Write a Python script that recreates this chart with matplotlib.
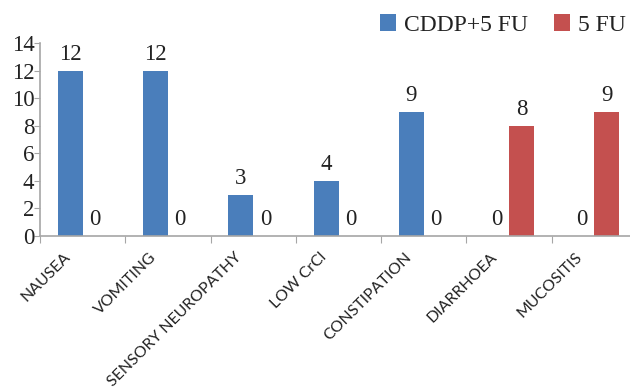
import matplotlib
matplotlib.use('Agg')
import matplotlib.pyplot as plt
import matplotlib.transforms as mtransforms
import numpy as np

categories = ['NAUSEA', 'VOMITING', 'SENSORY NEUROPATHY', 'LOW CrCl',
              'CONSTIPATION', 'DIARRHOEA', 'MUCOSITIS']
cddp_5fu = [12, 12, 3, 4, 9, 0, 0]
only_5fu = [0, 0, 0, 0, 0, 8, 9]
series_names = ['CDDP+5 FU', '5 FU']

blue = '#4A7EBB'
red = '#C4504F'
grey = '#A6A6A6'

fig = plt.figure(figsize=(6.3, 3.88), dpi=100)
ax = fig.add_axes([40 / 630, 1 - 236 / 388, 597 / 630, 193 / 388])

x = np.arange(len(categories))
w = 0.29
b1 = ax.bar(x - w / 2, cddp_5fu, w, color=blue, label=series_names[0])
b2 = ax.bar(x + w / 2, only_5fu, w, color=red, label=series_names[1])

for bars in (b1, b2):
    ax.bar_label(bars, padding=4, fontsize=16.5, family='Liberation Serif',
                 color='#222222')

ax.set_xlim(-0.5, len(categories) - 0.5)
ax.set_ylim(0, 14)
ax.set_yticks(range(0, 15, 2))
ax.tick_params(axis='y', labelsize=16.5, length=4, color=grey, pad=0,
               labelcolor='#222222')
for t in ax.get_yticklabels():
    t.set_family('Liberation Serif')

# ticks on the category boundaries, labels at the centres
ax.set_xticks(np.arange(len(categories) + 1) - 0.5)
ax.set_xticklabels([])
ax.tick_params(axis='x', length=5, color=grey)
ax.set_xticks(x, minor=True)
ax.set_xticklabels(categories, minor=True, rotation=45, ha='right',
                   rotation_mode='anchor', fontsize=11.4,
                   family='Lato', color='#222222')
ax.tick_params(axis='x', which='minor', length=0, pad=0)
shift = mtransforms.ScaledTranslation(-0.19, -0.14, fig.dpi_scale_trans)
for t in ax.get_xticklabels(minor=True):
    t.set_transform(t.get_transform() + shift)

for s in ('top', 'right'):
    ax.spines[s].set_visible(False)
for s in ('left', 'bottom'):
    ax.spines[s].set_color(grey)
    ax.spines[s].set_linewidth(1.2)

fig.legend(loc='center right', bbox_to_anchor=(626 / 630, 1 - 25 / 388),
           ncol=2, frameon=False,
           prop={'family': 'Liberation Serif', 'size': 17},
           handlelength=0.68, handleheight=0.68, handletextpad=0.34,
           columnspacing=1.1, borderaxespad=0, borderpad=0,
           labelcolor='#222222')

fig.savefig('out.png', dpi=100)
